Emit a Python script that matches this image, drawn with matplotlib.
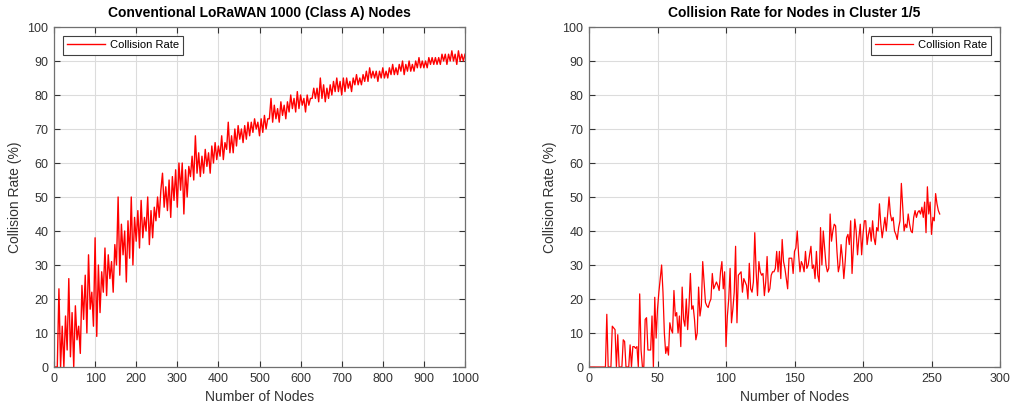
import numpy as np
import matplotlib
matplotlib.use('Agg')
import matplotlib.pyplot as plt

plt.rcParams['font.family'] = ['Liberation Sans', 'DejaVu Sans']

## left chart: conventional LoRaWAN, 1000 nodes (values read every 4 nodes)
nodes_all = np.arange(4, 1001, 4)
rate_all = [
    0, 0, 23, 0, 12, 0, 15, 5, 26, 3, 16, 0, 18, 8, 12, 4, 24, 14, 27, 10,
    33, 17, 22, 12, 38, 9, 30, 16, 28, 22, 35, 21, 33, 26, 31, 22, 36, 30, 50, 27,
    42, 33, 40, 25, 43, 32, 50, 30, 44, 37, 46, 35, 49, 38, 44, 40, 50, 36, 46, 38,
    47, 43, 50, 44, 52, 57, 47, 53, 46, 55, 44, 56, 49, 58, 47, 60, 52, 60, 45, 58,
    50, 59, 56, 62, 55, 68, 57, 63, 56, 62, 57, 64, 59, 63, 57, 65, 60, 66, 61, 65,
    62, 68, 61, 66, 64, 72, 63, 68, 63, 70, 65, 71, 67, 70, 66, 71, 67, 72, 68, 72,
    69, 73, 70, 72, 68, 73, 69, 74, 70, 73, 73, 79, 72, 77, 73, 76, 72, 78, 74, 77,
    73, 78, 75, 80, 76, 79, 75, 81, 76, 80, 77, 79, 75, 80, 77, 79, 79, 82, 79, 82,
    78, 85, 79, 83, 78, 82, 79, 83, 80, 84, 81, 85, 81, 84, 80, 85, 81, 85, 82, 84,
    81, 85, 83, 86, 83, 85, 83, 86, 84, 87, 84, 88, 85, 87, 85, 87, 84, 87, 85, 88,
    85, 87, 85, 88, 86, 89, 86, 88, 86, 89, 87, 90, 86, 89, 87, 90, 87, 89, 87, 90,
    88, 91, 88, 90, 88, 90, 88, 91, 89, 91, 89, 91, 89, 91, 89, 92, 90, 92, 89, 92,
    90, 93, 90, 92, 89, 93, 90, 92, 90, 92,
]

## right chart: nodes in cluster 1/5
nodes_c1 = np.arange(1, 257)
rate_c1 = [
    0, 0, 0, 0, 0, 0, 0, 0, 0, 0, 0, 0, 15.5, 0, 0, 0, 12, 11.5, 11, 0,
    9.5, 0, 0, 0, 8, 7.5, 0, 0, 0, 6.5, 0, 6, 6, 5.5, 6, 0, 21.5, 5, 0, 0,
    14, 14.5, 5, 5, 5, 15, 0, 20.5, 8.5, 17, 22, 26, 30, 22, 10, 4, 6, 3.5, 13, 11,
    10, 22.5, 15, 16, 10, 15, 6, 23.5, 14, 12, 20, 11, 18, 27.5, 17, 18, 14, 8, 10, 23.5,
    15, 18, 31, 25, 19, 18, 17.5, 19, 20, 27.5, 23, 24, 25, 24, 22.5, 28, 31, 23, 28, 6,
    15, 20, 29, 13, 17, 22, 35.5, 13, 27, 27.5, 28, 22, 26, 25, 24, 20, 30.5, 23, 22, 25,
    39.5, 28, 21, 31, 28, 27, 27.5, 21, 25, 32.5, 22, 23, 27, 28, 28, 29, 34, 28, 34, 26,
    37.5, 31, 29, 26, 23, 32, 32, 32, 27.5, 34, 35, 40, 33, 28, 31, 30, 28, 34, 29, 30,
    33, 35.5, 29, 30, 26, 34, 27, 25, 41, 30, 40, 35, 30, 28, 29, 45, 37, 40, 42, 41.5,
    34, 28, 30, 36, 32, 26, 31, 38, 39, 36, 43, 27.5, 35, 43.5, 40, 33, 38, 42, 33, 39,
    43, 43, 36, 39, 41, 37, 43, 38, 36, 41, 40, 48, 42, 38, 41, 44, 40, 45, 50, 45,
    43, 44, 40, 39, 37.5, 41, 43, 54, 47, 40, 42, 41, 45, 42, 40, 39.5, 44, 46, 44, 45.5,
    46, 45, 47, 44, 48.5, 39.5, 53, 45, 48.5, 39, 44, 43, 51, 48, 46, 45,
]

fig = plt.figure(figsize=(10.11, 4.11), dpi=100)
ax1 = fig.add_axes([54/1011, 44/411, 411/1011, 340/411])
ax2 = fig.add_axes([589/1011, 44/411, 411/1011, 340/411])

panels = [
    (ax1, nodes_all, rate_all, 'Conventional LoRaWAN 1000 (Class A) Nodes',
     np.arange(0, 1001, 100), 'upper left', 1.0),
    (ax2, nodes_c1, rate_c1, 'Collision Rate for Nodes in Cluster 1/5',
     np.arange(0, 301, 50), 'upper right', 0.9),
]

for ax, xs, ys, title, xt, loc, lw in panels:
    ax.plot(xs, ys, color='#ff0000', lw=lw, label='Collision Rate')
    ax.set_xlim(xt[0], xt[-1])
    ax.set_ylim(0, 100)
    ax.set_xticks(xt)
    ax.set_yticks(np.arange(0, 101, 10))
    ax.grid(True, color='#dcdcdc', lw=0.8)
    ax.set_axisbelow(True)
    ax.tick_params(direction='in', top=True, right=True, labelsize=9,
                   colors='#333333', length=4, width=0.8, pad=4)
    for s in ax.spines.values():
        s.set_color('#707070')
        s.set_linewidth(0.9)
    ax.set_title(title, fontsize=10, fontweight='bold', pad=7)
    ax.set_xlabel('Number of Nodes', fontsize=10, color='#333333', labelpad=4)
    ax.set_ylabel('Collision Rate (%)', fontsize=10, color='#333333', labelpad=4)
    leg = ax.legend(loc=loc, fontsize=8, handlelength=3.4, fancybox=False,
                    framealpha=1, borderaxespad=0.8, handletextpad=0.4)
    leg.get_frame().set_edgecolor('#404040')
    leg.get_frame().set_linewidth(0.8)

fig.savefig('out.png', dpi=100)
